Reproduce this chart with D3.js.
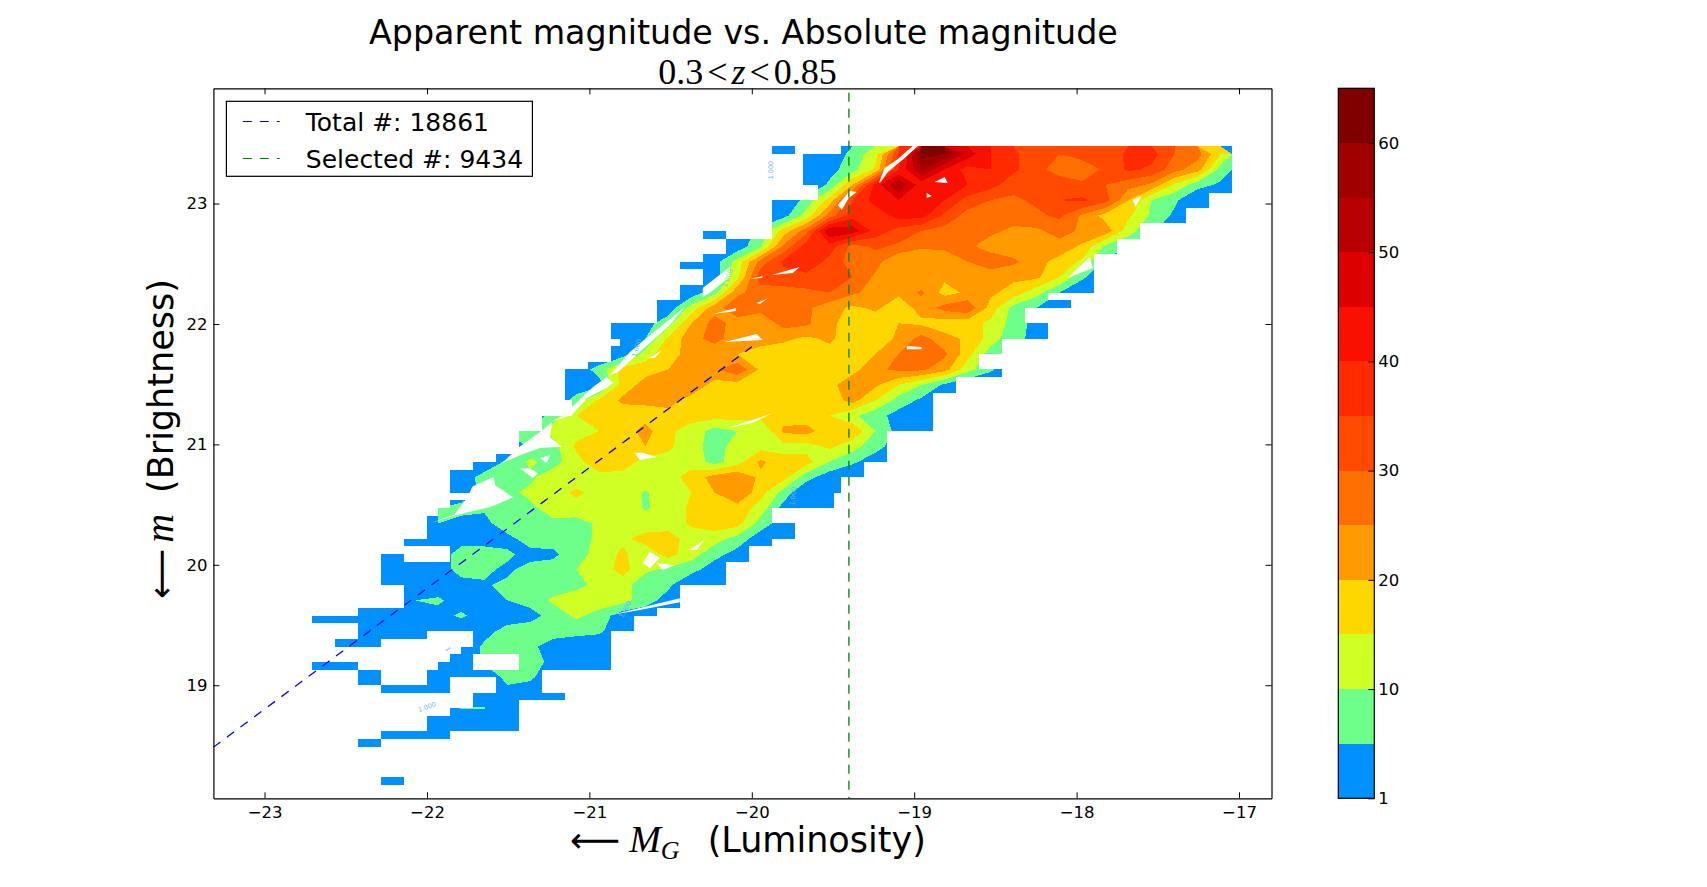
<!DOCTYPE html>
<html>
<head>
<meta charset="utf-8">
<script src="https://d3js.org/d3.v7.min.js"></script>
<style>
  html, body { margin: 0; padding: 0; background: #fff; }
  text { font-family: "DejaVu Sans", sans-serif; fill: #000; }
  .math { font-family: "Liberation Serif", serif; }
</style>
</head>
<body>
<script>
// tick labels and colour levels
const magTicks = [-23, -22, -21, -20, -19, -18, -17];
const appTicks = [19, 20, 21, 22, 23];
const levels = [1, 5, 10, 15, 20, 25, 30, 35, 40, 45, 50, 55, 60, 65];
const levelTicks = [1, 10, 20, 30, 40, 50, 60];
const bandColors = ["#0090ff", "#6dff8a", "#d0ff26", "#ffd700", "#ff9a00", "#ff6e00", "#ff4a00",
  "#ff2a00", "#f91000", "#dd0000", "#b80000", "#a00000", "#800000"];

// counts per bin. one list per m bin, starting at rowStart
const rowStart = [23,22,22,21,20,19,18,16,16,16,15,14,13,13,11,11,10,10,8,9,7,6,6,5,5,4,3,3,4,4,2,7,7,6,8,8,6];
const rowCounts = [
  [7,13,35,62,60,48,40,36,32,30,32,32,36,37,30,27,15],
  [3,8,16,40,55,45,38,40,36,32,27,27,31,36,34,27,22,8],
  [6,20,42,55,42,40,40,37,32,33,34,31,30,27,24,14,7,4],
  [7,17,35,42,45,42,40,33,30,29,31,35,36,32,20,10,6],
  [3,12,27,38,37,42,42,34,28,27,27,29,31,24,18,16,9,4],
  [7,17,28,50,48,38,33,30,28,27,26,24,24,27,24,23,12,6],
  [2,9,26,38,38,28,31,29,26,26,26,23,22,22,23,19,9,6],
  [2,3,12,27,36,40,33,28,27,20,20,22,25,28,26,22,18,14,3],
  [2,2,14,33,33,33,34,30,24,21,21,21,22,22,21,21,15,6],
  [2,8,24,27,28,29,30,26,23,21,26,18,21,21,18,12,5],
  [2,12,23,28,27,26,26,22,19,21,17,22,27,29,18,8,5],
  [3,8,20,27,23,21,27,26,21,18,17,20,19,17,17,14,8,3],
  [2,5,16,23,27,22,23,21,19,21,17,17,21,27,22,19,13,6,4],
  [2,12,19,21,21,20,17,17,18,18,18,20,25,26,26,17,7,3],
  [2,7,17,18,20,22,24,29,19,19,18,18,18,24,26,26,22,12,6],
  [2,3,17,22,24,24,18,18,18,19,18,18,24,21,15,10,4],
  [1,7,16,21,21,22,18,17,17,17,17,17,17,22,15,8,4],
  [8,15,16,17,18,18,17,17,17,17,18,17,15,11,7,3],
  [6,6,12,13,15,17,22,16,13,8,10,10,21,22,17,19,10,3],
  [6,8,16,19,18,20,16,12,8,12,13,13,13,16,12,7,2],
  [1,6,11,8,13,19,18,13,13,13,8,13,21,17,17,10,6,2],
  [2,7,9,9,13,12,13,13,13,13,17,22,24,19,17,7,2],
  [3,6,9,11,13,16,13,13,9.5,13,15,20,25,17,8],
  [5,6,6,7,9,12,13,13,13,9.5,12,16,18,18,13,3],
  [5,4,3,9,8,9,8,11,12,12,12,16,18,17,8,2],
  [1,2,2,3,3,8,7,8,11,14,17,18,12,12,8,2],
  [1,1,1,8,7,6,3,4,8,12,16,12,17,12,7,3],
  [1,1,1,8,6,4,7,7,10,12,17,11,9,7,2],
  [1,1,2,4.5,6,7,7,9,11,12,7,6],
  [5,6,2,2,5,7,11,12,13,12,7,3],
  [1,1,1,3,6,2,2,3,7,11,8,2,2],
  [3,7,8,7,7,6,1],
  [6,7,6,3,1,1],
  [1,6,9,8,3],
  [7,6,1],
  [3,2],
  [5.4,5.3]
];

// occupied bins on the fine grid: first row, last row, first column, end column
const occupied = [
  [0,0,20,21],[0,0,23,40],[1,4,21.35,40],[5,5,22,40],[6,6,22,39],[7,7,20,39],[8,9,20,38],[10,10,20,36],
  [11,11,17,18],[11,11,20,36],[12,13,18,35],[14,14,17,34],[15,15,16,34],[16,17,17,34],[18,18,16,34],
  [19,19,16,32],[20,20,15,33],[21,22,15,31],[23,24,13,32],[25,25,13.4,30],[26,26,13,30],[27,27,13,29],
  [28,28,12,29],[29,29,11,30],[30,31,11,28],[32,32,11,27],[33,34,11.3,27],[35,36,10,27],[37,39,9,25],
  [40,40,8,25],[41,41,7,24],[42,42,6,24],[43,44,6,23],[45,45,7,22.7],[46,46,6,22.7],[47,47,5.5,20],
  [48,48,5,20],[49,50,5,21],[51,51,4,20],[52,52,6,19],[53,53,3,4],[53,53,6,19],[54,56,3,18],[57,59,4,16],
  [60,60,2,15],[61,61,0,14],[62,62,2,14],[63,63,2,5],[63,64,7,13],[64,64,1,3],[65,65,6.5,13],[66,66,6,7],
  [66,67,9,13],[67,67,0,2],[67,67,5.5,7],[68,68,2,3],[68,68,5,10],[69,69,2,3],[69,69,5,6],[69,70,8,10],
  [70,70,3,6],[71,71,7,11],[72,72,7,9],[73,73,6,9],[74,75,5,9],[76,76,3,6],[77,77,2,3],[82,82,3,4]
];

// white slivers left by the masked contouring, in [M, m]
const gaps = [
  [[-21.97,20.35],[-21.83,20.42],[-21.75,20.56],[-21.72,20.65],[-21.59,20.73],[-21.58,20.66],[-21.47,20.56],[-21.61,20.48],[-21.77,20.43],[-21.85,20.40]],
  [[-21.538,20.845],[-21.44,20.97],[-21.305,21.10],[-21.23,21.185],[-21.243,21.06],[-21.17,20.98],[-21.305,20.97],[-21.428,20.91]],
  [[-21.428,20.80],[-21.366,20.80],[-21.317,20.76],[-21.348,20.72]],
  [[-21.305,20.886],[-21.243,20.91],[-21.262,20.845]],
  [[-20.72,20.93],[-20.67,20.93],[-20.585,20.895],[-20.69,20.87]],
  [[-21.243,21.185],[-21.15,21.243],[-21.108,21.31],[-20.978,21.476],[-20.892,21.56],[-20.855,21.51],[-20.892,21.47],[-21.015,21.385],[-21.108,21.243]],
  [[-20.874,21.576],[-20.75,21.767],[-20.61,21.924],[-20.412,22.14],[-20.505,21.99],[-20.69,21.767],[-20.825,21.6]],
  [[-20.302,22.223],[-20.302,22.298],[-20.135,22.473],[-20.135,22.39],[-20.26,22.257]],
  [[-20.166,21.85],[-19.97,21.916],[-19.932,21.866]],
  [[-20.24,22.082],[-20.098,22.132],[-20.098,22.107]],
  [[-19.97,22.174],[-19.9,22.215],[-19.95,22.165]],
  [[-19.877,22.406],[-19.705,22.473],[-19.748,22.423]],
  [[-20.012,22.373],[-19.932,22.398],[-19.938,22.381]],
  [[-19.47,22.988],[-19.397,23.104],[-19.354,23.096],[-19.403,23.046],[-19.446,22.946]],
  [[-19.218,23.17],[-19.182,23.295],[-19.108,23.361],[-19.009,23.478],[-18.978,23.478],[-19.058,23.378],[-19.163,23.262],[-19.206,23.179]],
  [[-18.874,23.179],[-18.812,23.22],[-18.794,23.17]],
  [[-18.923,23.087],[-18.892,23.062],[-18.923,23.046]],
  [[-17.655,23.029],[-17.6,23.062],[-17.637,22.971]],
  [[-18.055,22.381],[-17.92,22.556],[-17.9,22.464]],
  [[-20.154,21.135],[-19.994,21.202],[-19.87,21.26],[-20,21.177]],
  [[-20.67,20.014],[-20.628,20.106],[-20.566,20.056],[-20.628,19.973]],
  [[-20.585,20.014],[-20.474,19.997],[-20.548,19.956]],
  [[-20.382,20.122],[-20.295,20.205],[-20.338,20.122]],
  [[-20.874,19.582],[-20.443,19.723],[-20.443,19.69],[-20.69,19.624]],
  [[-19.046,21.816],[-18.954,21.808],[-18.954,21.79],[-19.046,21.79]],
  [[-20.628,21.717],[-20.554,21.783],[-20.597,21.717]]
];

// contour labels: M, m, angle, text, colour
const contourLabels = [
  [-19.885, 23.278, -90, "1.000", "#66b8ff"],
  [-22.0, 18.82, -20, "1.000", "#66b8ff"],
  [-20.71, 21.80, -75, "1.000", "#66c8c0"],
  [-19.746, 20.57, -85, "1.000", "#66b8ff"],
  [-20.78, 19.63, -60, "1.000", "#66b8ff"],
  [-21.87, 19.30, 60, "1", "#66b8ff"],
  [-20.15, 22.38, -70, "1.000", "#66e090"]
];

const totalLine = [[-23.4, 18.4], [-20.0, 21.81]];
const selectedLine = [[-19.402, 18.0], [-19.402, 24.0]];
const legendItems = [["Total #: 18861", "#0000ff"], ["Selected #: 9434", "#008000"]];

const width = 1707, height = 887;
const ax = {left: 213.4, right: 1271.5, top: 88.3, bottom: 798.3};
const bar = {left: 1338.3, right: 1374.3};

// bin layout
const magFirst = -22.71, magStep = 0.1417, appTop = 23.475, appStep = 0.0639;
const nCols = 40, nRows = rowCounts.length + 5;

const x = d3.scaleLinear().domain([-23.315, -16.80]).range([ax.left, ax.right]);
const y = d3.scaleLinear().domain([18.061, 23.957]).range([ax.bottom, ax.top]);
const colMag = (c) => magFirst + c * magStep;
const rowApp = (r) => appTop - r * appStep;

const svg = d3.select("body").append("svg")
  .attr("width", width).attr("height", height)
  .style("display", "block");

const defs = svg.append("defs");
defs.append("clipPath").attr("id", "axes-clip").append("rect")
  .attr("x", ax.left).attr("y", ax.top)
  .attr("width", ax.right - ax.left).attr("height", ax.bottom - ax.top);

// whole pixels so neighbouring runs leave no seam
const runRect = (sel) => sel
  .attr("x", (d) => Math.round(x(colMag(d[2]))))
  .attr("y", (d) => Math.round(y(rowApp(d[0]))))
  .attr("width", (d) => Math.round(x(colMag(d[3]))) - Math.round(x(colMag(d[2]))))
  .attr("height", (d) => Math.round(y(rowApp(d[1] + 1))) - Math.round(y(rowApp(d[0]))));

// contours only exist where the bins are occupied
defs.append("clipPath").attr("id", "occupied-clip")
  .selectAll("rect").data(occupied).enter().append("rect").call(runRect);

// lowest band
svg.append("g").attr("class", "low-band")
  .attr("fill", bandColors[0])
  .attr("shape-rendering", "crispEdges")
  .selectAll("rect").data(occupied).enter().append("rect").call(runRect);

// counts on the coarse grid, two fine rows to a coarse row
const grid = new Array(nCols * nRows).fill(0);
rowCounts.forEach((row, j) => row.forEach((v, i) => { grid[j * nCols + rowStart[j] + i] = v; }));

const contours = d3.contours().size([nCols, nRows]).thresholds(levels.slice(1, -1))(grid);
const gridPath = d3.geoPath(d3.geoTransform({
  point(cx, cy) { this.stream.point(x(colMag(cx)), y(rowApp(cy * 2))); }
}));

svg.append("g").attr("class", "contours")
  .attr("clip-path", "url(#occupied-clip)")
  .selectAll("path").data(contours).enter().append("path")
  .attr("d", gridPath)
  .attr("fill", (d, i) => bandColors[i + 1])
  .attr("shape-rendering", "crispEdges");

svg.append("g").attr("class", "gaps")
  .selectAll("polygon").data(gaps).enter().append("polygon")
  .attr("points", (d) => d.map((p) => [x(p[0]), y(p[1])].join(",")).join(" "))
  .attr("fill", "#fff");

svg.append("g").attr("class", "contour-labels")
  .selectAll("text").data(contourLabels).enter().append("text")
  .attr("transform", (d) => `translate(${x(d[0])},${y(d[1])}) rotate(${d[2]})`)
  .attr("text-anchor", "middle").attr("dy", "0.35em")
  .style("font-size", "6.5px")
  .style("fill", (d) => d[4])
  .text((d) => d[3]);

const line = d3.line().x((d) => x(d[0])).y((d) => y(d[1]));
const refs = svg.append("g").attr("clip-path", "url(#axes-clip)").attr("fill", "none");
refs.append("path").attr("d", line(totalLine))
  .attr("stroke", legendItems[0][1]).attr("stroke-width", 1.3).attr("stroke-dasharray", "9,8");
refs.append("path").attr("d", line(selectedLine))
  .attr("stroke", legendItems[1][1]).attr("stroke-width", 1.3).attr("stroke-dasharray", "9,7");

// axes, ticks point inwards on all four sides
function styleAxis(g) {
  g.selectAll(".domain").attr("stroke", "#000").attr("stroke-width", 1.2);
  g.selectAll(".tick line").attr("stroke", "#000");
  g.selectAll(".tick text").style("font-size", "16.5px").style("font-family", '"DejaVu Sans"');
}
svg.append("g").attr("transform", `translate(0,${ax.bottom})`)
  .call(d3.axisBottom(x).tickValues(magTicks).tickSize(-6).tickSizeOuter(0).tickPadding(8).tickFormat(d3.format("d")))
  .call(styleAxis);
svg.append("g").attr("transform", `translate(0,${ax.top})`)
  .call(d3.axisTop(x).tickValues(magTicks).tickSize(-6).tickSizeOuter(0).tickFormat(""))
  .call(styleAxis);
svg.append("g").attr("transform", `translate(${ax.left},0)`)
  .call(d3.axisLeft(y).tickValues(appTicks).tickSize(-6).tickSizeOuter(0).tickPadding(6).tickFormat(d3.format("d")))
  .call(styleAxis);
svg.append("g").attr("transform", `translate(${ax.right},0)`)
  .call(d3.axisRight(y).tickValues(appTicks).tickSize(-6).tickSizeOuter(0).tickFormat(""))
  .call(styleAxis);

// titles
svg.append("text").attr("x", (ax.left + ax.right) / 2 + 1).attr("y", 44)
  .attr("text-anchor", "middle").style("font-size", "33.3px")
  .text("Apparent magnitude vs. Absolute magnitude");

const sub = svg.append("text").attr("class", "math")
  .attr("x", (ax.left + ax.right) / 2 + 5).attr("y", 84)
  .attr("text-anchor", "middle").style("font-size", "36px")
  .style("font-family", '"Liberation Serif"');
sub.append("tspan").text("0.3");
sub.append("tspan").attr("dx", 4).text("<");
sub.append("tspan").attr("dx", 4).style("font-style", "italic").text("z");
sub.append("tspan").attr("dx", 4).text("<");
sub.append("tspan").attr("dx", 4).text("0.85");

const xLabel = svg.append("text").attr("x", 570).attr("y", 852).style("font-size", "35px");
xLabel.append("tspan").text("\u27f5");
xLabel.append("tspan").attr("dx", 9).style("font-family", '"Liberation Serif"').style("font-style", "italic").style("font-size", "38px").text("M");
xLabel.append("tspan").attr("dy", 7).style("font-family", '"Liberation Serif"').style("font-style", "italic").style("font-size", "26px").text("G");
xLabel.append("tspan").attr("dy", -7).attr("dx", 28).text("(Luminosity)");

const yLabel = svg.append("text")
  .attr("transform", "translate(173,599) rotate(-90)").style("font-size", "35px");
yLabel.append("tspan").text("\u27f5");
yLabel.append("tspan").attr("dx", 6).style("font-family", '"Liberation Serif"').style("font-style", "italic").style("font-size", "40px").text("m");
yLabel.append("tspan").attr("dx", 21).text("(Brightness)");

// legend
const legend = svg.append("g");
legend.append("rect").attr("x", 226.4).attr("y", 101.3).attr("width", 306).attr("height", 75)
  .attr("fill", "#fff").attr("stroke", "#000").attr("stroke-width", 1.2);
const legendRow = legend.selectAll("g").data(legendItems).enter().append("g")
  .attr("transform", (d, i) => `translate(242.8,${121.5 + i * 37})`);
legendRow.append("line").attr("x2", 37)
  .attr("stroke", (d) => d[1]).attr("stroke-width", 1.2).attr("stroke-dasharray", "9,8");
legendRow.append("text").attr("x", 63).attr("dy", "0.36em")
  .style("font-size", "25px").text((d) => d[0]);

// colour bar
const barY = d3.scalePoint().domain(levels).range([ax.bottom, ax.top]);
svg.append("g").attr("class", "colorbar")
  .attr("shape-rendering", "crispEdges")
  .selectAll("rect").data(bandColors).enter().append("rect")
  .attr("x", bar.left).attr("width", bar.right - bar.left)
  .attr("y", (d, i) => barY(levels[i + 1]))
  .attr("height", (d, i) => barY(levels[i]) - barY(levels[i + 1]))
  .attr("fill", (d) => d);
svg.append("rect").attr("x", bar.left).attr("y", ax.top)
  .attr("width", bar.right - bar.left).attr("height", ax.bottom - ax.top)
  .attr("fill", "none").attr("stroke", "#000").attr("stroke-width", 1.2);
svg.append("g").attr("transform", `translate(${bar.right},0)`)
  .call(d3.axisRight(barY).tickValues(levelTicks).tickSize(-6).tickSizeOuter(0).tickPadding(4))
  .call(styleAxis)
  .call((g) => g.select(".domain").remove());
</script>
</body>
</html>
